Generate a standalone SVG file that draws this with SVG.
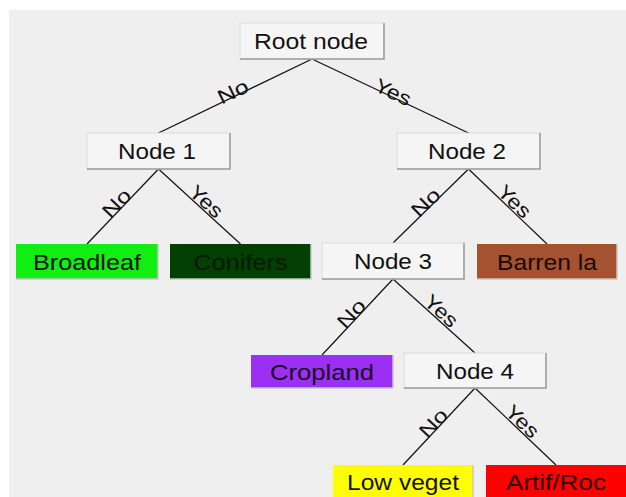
<svg xmlns="http://www.w3.org/2000/svg" width="626" height="497" viewBox="0 0 626 497">
<style>
.bg{fill:#efefef}
.box{fill:#f5f5f5;stroke:#dcdcdc;stroke-width:1}
.sh{fill:none;stroke:#9a9a9a;stroke-width:1.5}
.lsh{fill:none;stroke:#c8c8c8;stroke-width:1.5}
.t{font-family:"Liberation Sans",Arial,sans-serif;font-size:22px;fill:#111;text-anchor:middle}
.lbl{font-family:"Liberation Sans",Arial,sans-serif;font-size:20px;fill:#111;text-anchor:middle}
.edge{stroke:#111;stroke-width:1.2;fill:none}
</style>
<rect width="626" height="497" fill="#ffffff"/>
<rect class="bg" x="9" y="10" width="617" height="487"/>
<g id="connectors">
<line class="edge" x1="312" y1="59" x2="158.5" y2="133"/>
<line class="edge" x1="312" y1="59" x2="468.5" y2="133"/>
<line class="edge" x1="158.5" y1="169" x2="87" y2="244"/>
<line class="edge" x1="158.5" y1="169" x2="240.5" y2="244"/>
<line class="edge" x1="468.5" y1="169" x2="393" y2="243"/>
<line class="edge" x1="468.5" y1="169" x2="547" y2="244"/>
<line class="edge" x1="393" y1="279" x2="322" y2="355"/>
<line class="edge" x1="393" y1="279" x2="475" y2="353"/>
<line class="edge" x1="475" y1="388" x2="403" y2="465"/>
<line class="edge" x1="475" y1="388" x2="556" y2="465"/>
<g transform="translate(235,96) rotate(-25.7)"><text class="lbl" x="0" y="2" textLength="32" lengthAdjust="spacingAndGlyphs">No</text></g>
<g transform="translate(391,96.5) rotate(25.4)"><text class="lbl" x="0" y="2" textLength="38" lengthAdjust="spacingAndGlyphs">Yes</text></g>
<g transform="translate(120,206.5) rotate(-46.4)"><text class="lbl" x="0" y="2" textLength="32" lengthAdjust="spacingAndGlyphs">No</text></g>
<g transform="translate(203,205) rotate(42.4)"><text class="lbl" x="0" y="2" textLength="38" lengthAdjust="spacingAndGlyphs">Yes</text></g>
<g transform="translate(429,206) rotate(-44.4)"><text class="lbl" x="0" y="2" textLength="32" lengthAdjust="spacingAndGlyphs">No</text></g>
<g transform="translate(511,205) rotate(43.7)"><text class="lbl" x="0" y="2" textLength="38" lengthAdjust="spacingAndGlyphs">Yes</text></g>
<g transform="translate(355,317) rotate(-47)"><text class="lbl" x="0" y="2" textLength="32" lengthAdjust="spacingAndGlyphs">No</text></g>
<g transform="translate(438,314.5) rotate(42)"><text class="lbl" x="0" y="2" textLength="38" lengthAdjust="spacingAndGlyphs">Yes</text></g>
<g transform="translate(437,426.5) rotate(-46.9)"><text class="lbl" x="0" y="2" textLength="32" lengthAdjust="spacingAndGlyphs">No</text></g>
<g transform="translate(519,425) rotate(43.6)"><text class="lbl" x="0" y="2" textLength="38" lengthAdjust="spacingAndGlyphs">Yes</text></g>
</g>
<g id="root">
<rect class="box" x="240" y="23" width="144" height="36"/>
<polyline class="sh" points="384,23 384,59 240,59"/>
<text class="t" x="311" y="49" textLength="114" lengthAdjust="spacingAndGlyphs">Root node</text>
</g>
<g id="node1">
<rect class="box" x="87" y="133" width="143" height="36"/>
<polyline class="sh" points="230,133 230,169 87,169"/>
<text class="t" x="157" y="159" textLength="78" lengthAdjust="spacingAndGlyphs">Node 1</text>
</g>
<g id="node2">
<rect class="box" x="397" y="133" width="143" height="36"/>
<polyline class="sh" points="540,133 540,169 397,169"/>
<text class="t" x="467" y="159" textLength="78" lengthAdjust="spacingAndGlyphs">Node 2</text>
</g>
<g id="broadleaf">
<rect x="16" y="244" width="142" height="35" fill="#11ee11"/>
<polyline class="lsh" points="158,244 158,279 16,279"/>
<text class="t" x="87" y="269.5" textLength="108" lengthAdjust="spacingAndGlyphs">Broadleaf</text>
</g>
<g id="conifers">
<rect x="170" y="244" width="141" height="35" fill="#023f02"/>
<polyline class="lsh" points="311,244 311,279 170,279"/>
<text class="t" x="240.5" y="269.5" textLength="94" lengthAdjust="spacingAndGlyphs" style="fill:#0a1a0a">Conifers</text>
</g>
<g id="node3">
<rect class="box" x="322" y="243" width="142" height="36"/>
<polyline class="sh" points="464,243 464,279 322,279"/>
<text class="t" x="393" y="269" textLength="78" lengthAdjust="spacingAndGlyphs">Node 3</text>
</g>
<g id="barren">
<rect x="477" y="244" width="140" height="35" fill="#a4522f"/>
<polyline class="lsh" points="617,244 617,279 477,279"/>
<text class="t" x="547" y="269.5" textLength="100" lengthAdjust="spacingAndGlyphs" style="fill:#1a0a05">Barren la</text>
</g>
<g id="cropland">
<rect x="251" y="355" width="142" height="33" fill="#9b2ff2"/>
<polyline class="lsh" points="393,355 393,388 251,388"/>
<text class="t" x="322" y="379.5" textLength="104" lengthAdjust="spacingAndGlyphs" style="fill:#1a0a25">Cropland</text>
</g>
<g id="node4">
<rect class="box" x="404" y="353" width="142" height="35"/>
<polyline class="sh" points="546,353 546,388 404,388"/>
<text class="t" x="475" y="378.5" textLength="78" lengthAdjust="spacingAndGlyphs">Node 4</text>
</g>
<g id="lowveget">
<rect x="333" y="465" width="140" height="34" fill="#ffff00"/>
<polyline class="lsh" points="473,465 473,499"/>
<text class="t" x="403" y="489.5" textLength="112" lengthAdjust="spacingAndGlyphs">Low veget</text>
</g>
<g id="artif">
<rect x="486" y="465" width="142" height="34" fill="#ff0000"/>
<text class="t" x="556" y="489.5" textLength="100" lengthAdjust="spacingAndGlyphs" style="fill:#2a0505">Artif/Roc</text>
</g>
</svg>
